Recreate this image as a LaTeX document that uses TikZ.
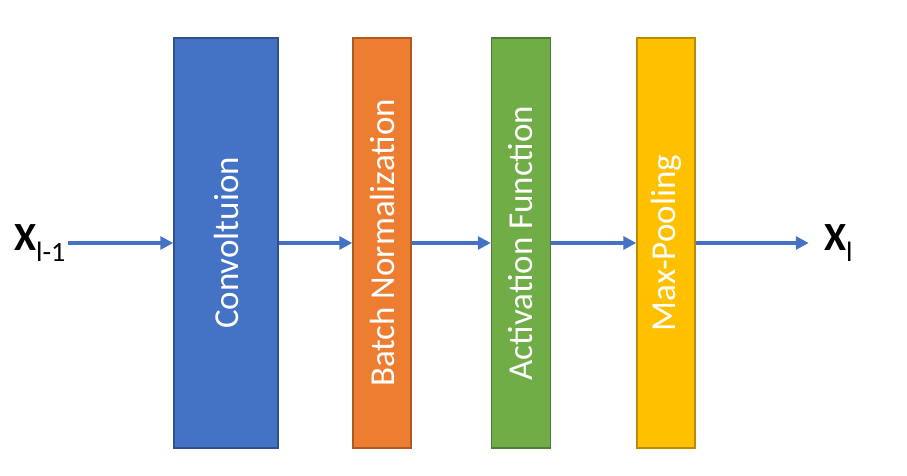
\documentclass[tikz,border=0pt]{standalone}
\usepackage{fontspec}
\setmainfont{Carlito}
\usetikzlibrary{arrows.meta,positioning}
\definecolor{convblue}{HTML}{4472C4}
\definecolor{convedge}{HTML}{2F528F}
\definecolor{bnorange}{HTML}{ED7D31}
\definecolor{bnedge}{HTML}{AE5A21}
\definecolor{actgreen}{HTML}{70AD47}
\definecolor{actedge}{HTML}{507E32}
\definecolor{poolgold}{HTML}{FFC000}
\definecolor{pooledge}{HTML}{BC8C00}
\tikzset{
  layer/.style={draw, line width=1.5pt, minimum height=410pt, inner sep=0pt},
  layertext/.style={rotate=90, text=white, font=\fontsize{35}{40}\selectfont},
  flow/.style={draw=convblue, line width=3.5pt, -{Triangle[length=13pt,width=13pt]}},
}
\begin{document}
\begin{tikzpicture}[x=1pt,y=1pt]
\useasboundingbox (0,0) rectangle (907,476);
\node[layer, fill=convblue, draw=convedge, minimum width=104pt] (conv) at (226,233) {};
\node[layer, fill=bnorange, draw=bnedge, minimum width=58pt] (bn) at (382,233) {};
\node[layer, fill=actgreen, draw=actedge, minimum width=59pt] (act) at (521,233) {};
\node[layer, fill=poolgold, draw=pooledge, minimum width=58pt] (pool) at (666,233) {};
\node[layertext] at (conv) {Convoltuion};
\node[layertext] at (bn) {Batch Normalization};
\node[layertext] at (act) {Activation Function};
\node[layertext] at (pool) {Max-Pooling};
\node[inner sep=0pt, anchor=west] (xin) at (14,233)
  {\fontsize{40}{40}\selectfont\bfseries X\raisebox{-11pt}{\fontsize{28}{28}\mdseries l-1}};
\node[inner sep=0pt, anchor=west] (xout) at (824,233)
  {\fontsize{40}{40}\selectfont\bfseries X\raisebox{-11pt}{\fontsize{28}{28}\mdseries l}};
\draw[flow] (xin.east) ++(2pt,0) coordinate (xs) (xs) -- (conv.west);
\draw[flow] (conv) -- (bn);
\draw[flow] (bn) -- (act);
\draw[flow] (act) -- (pool);
\draw[flow] (pool.east) -- ++(113pt,0) coordinate (xe);
\end{tikzpicture}
\end{document}
